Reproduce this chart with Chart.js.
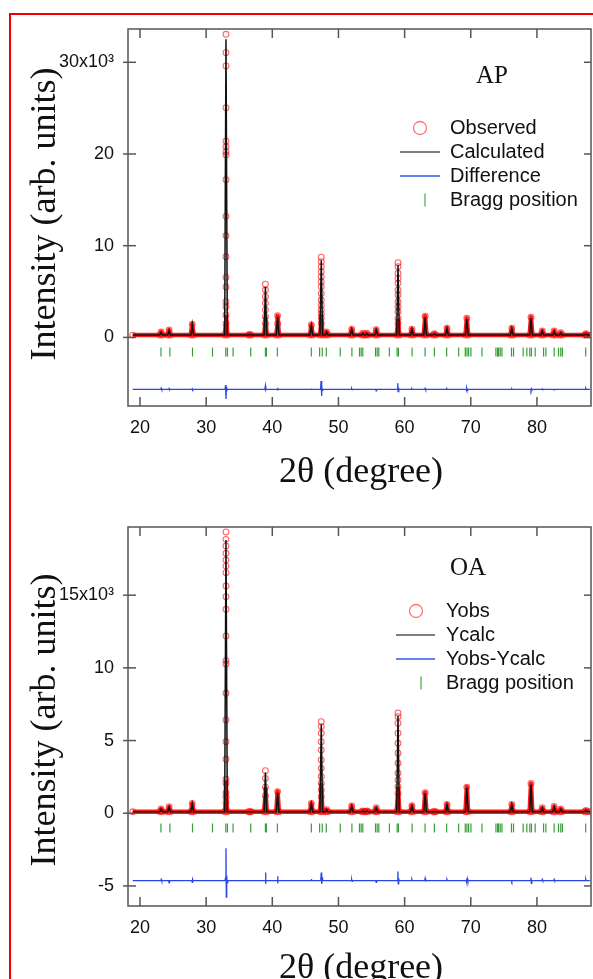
<!DOCTYPE html>
<html>
<head>
<meta charset="utf-8">
<script src="https://cdn.jsdelivr.net/npm/chart.js@4.4.1/dist/chart.umd.min.js"></script>
<style>
html, body { margin: 0; padding: 0; background: #fff; }
body { width: 593px; height: 979px; position: relative; overflow: hidden; }
#frame { position: absolute; left: 9px; top: 13px; width: 700px; height: 1000px;
         border-left: 2px solid #ee0000; border-top: 2px solid #ee0000; }
canvas { position: absolute; left: 0; }
#c1 { top: 0; }
#c2 { top: 490px; }
</style>
</head>
<body>
<div id="frame"></div>
<canvas id="c1" width="593" height="490"></canvas>
<canvas id="c2" width="593" height="489"></canvas>
<script>
// XRD refinement, two samples (AP, OA)
const X_TICKS = [20, 30, 40, 50, 60, 70, 80];
const X_START = 18.9, X_END = 88.0;

// reflection positions (2theta) shared by both patterns
const PEAK_POS = [23.2, 24.4, 27.9, 33.0, 36.6, 38.96, 40.8, 45.9, 47.4, 48.2, 52.0, 53.7, 54.3,
                  55.7, 59.0, 61.1, 63.1, 64.5, 66.4, 69.4, 76.2, 79.1, 80.8, 82.6, 83.6, 87.4];

// AP
const AP_OBS  = [600, 800, 1450, 33050, 350, 5800, 2370, 1350, 8750, 600, 900, 450, 450,
                 850, 8150, 900, 2300, 400, 1000, 2100, 1000, 2200, 700, 700, 500, 400];
const AP_CALC = [560, 760, 1400, 32500, 330, 5500, 2250, 1300, 8400, 580, 870, 430, 430,
                 820, 7900, 870, 2200, 380, 960, 2000, 960, 2100, 680, 660, 480, 380];
const AP_FLANK_POS = [33.0, 38.96, 40.8, 47.4, 59.0];
const AP_FLANK_VALS = [
  [1500, 2450, 3350, 3900, 5500, 6550, 8800, 11100, 13200, 17200, 19900, 20250, 20800, 21400, 25050, 29600, 31050],
  [1540, 2260, 2990, 3720, 4440, 5170],
  [1500],
  [1540, 2080, 2550, 2990, 3530, 4080, 4800, 5530, 6070, 6620, 7170, 7710, 8260],
  [1540, 2080, 2800, 3350, 3900, 4620, 5170, 5900, 6440, 6990, 7710]
];
const AP_DIFF = [
  [18.9,-5660],
  [23.15,-5660],[23.2,-5540],[23.26,-5700],[23.32,-5660],
  [24.35,-5660],[24.4,-5580],[24.45,-5660],
  [27.85,-5660],[27.9,-5600],[27.96,-5700],[28.02,-5660],
  [32.85,-5660],[32.94,-5190],[33.0,-6710],[33.06,-5420],[33.12,-5800],[33.2,-5660],
  [38.88,-5660],[38.95,-5300],[39.02,-5740],[39.08,-5660],
  [40.74,-5660],[40.8,-5480],[40.86,-5700],[40.92,-5660],
  [45.85,-5660],[45.9,-5580],[45.96,-5660],
  [47.3,-5660],[47.37,-4760],[47.44,-6390],[47.5,-5420],[47.57,-5760],[47.64,-5660],
  [51.95,-5660],[52.0,-5590],[52.06,-5700],[52.12,-5660],
  [55.64,-5660],[55.7,-5820],[55.76,-5660],
  [58.9,-5660],[58.96,-5010],[59.02,-5910],[59.08,-5500],[59.14,-5660],
  [61.05,-5660],[61.1,-5590],[61.16,-5660],
  [63.04,-5660],[63.1,-5560],[63.16,-5720],[63.22,-5660],
  [66.34,-5660],[66.4,-5590],[66.46,-5660],
  [69.3,-5660],[69.36,-5820],[69.42,-5540],[69.48,-5780],[69.55,-5660],
  [76.15,-5660],[76.2,-5600],[76.26,-5660],
  [79.04,-5660],[79.1,-5780],[79.16,-5590],[79.22,-5660],
  [80.75,-5660],[80.8,-5610],[80.86,-5660],
  [82.55,-5660],[82.6,-5720],[82.66,-5660],
  [87.32,-5660],[87.38,-5560],[87.44,-5660],
  [88.0,-5660]
];
const AP_Y_TICKS = [0, 10000, 20000, 30000];
const AP_Y_LABELS = ['0', '10', '20', '30x10³'];

// OA
const OA_OBS  = [300, 450, 680, 19350, 100, 2930, 1490, 680, 6300, 250, 500, 150, 150,
                 380, 6900, 520, 1420, 100, 600, 1800, 600, 2050, 380, 460, 300, 200];
const OA_CALC = [290, 430, 650, 18800, 100, 2800, 1430, 650, 6100, 240, 480, 150, 150,
                 360, 6700, 500, 1380, 100, 580, 1750, 580, 1980, 360, 440, 290, 190];
const OA_FLANK_POS = [33.0, 38.96, 47.4, 59.0];
const OA_FLANK_VALS = [
  [730, 1100, 1420, 2060, 2340, 3710, 4920, 6420, 8250, 10270, 10500, 12200, 14030, 14900, 15630, 16550, 17000, 17420, 17880, 18380, 18840],
  [1200, 1800, 2400],
  [1140, 1600, 2060, 2520, 3090, 3670, 4350, 4920, 5500, 5960],
  [1380, 1830, 2290, 2750, 3440, 4130, 4810, 5500, 6190, 6640]
];
const OA_DIFF = [
  [18.9,-4630],
  [23.15,-4630],[23.2,-4560],[23.26,-4680],[23.32,-4630],
  [24.35,-4630],[24.4,-4780],[24.46,-4630],
  [27.85,-4630],[27.9,-4760],[27.96,-4560],[28.02,-4630],
  [32.85,-4630],[32.93,-4450],[33.0,-2400],[33.05,-5770],[33.11,-4300],[33.17,-4780],[33.25,-4630],
  [38.9,-4630],[38.97,-4080],[39.04,-4720],[39.1,-4630],
  [40.74,-4630],[40.8,-4330],[40.86,-4700],[40.92,-4630],
  [45.85,-4630],[45.9,-4530],[45.96,-4630],
  [47.32,-4630],[47.4,-4080],[47.47,-4860],[47.54,-4400],[47.6,-4630],
  [51.95,-4630],[52.0,-4560],[52.06,-4680],[52.12,-4630],
  [55.64,-4630],[55.7,-4750],[55.76,-4630],
  [58.92,-4630],[58.98,-4010],[59.04,-4860],[59.1,-4480],[59.16,-4630],
  [61.05,-4630],[61.1,-4550],[61.16,-4630],
  [63.04,-4630],[63.1,-4480],[63.16,-4700],[63.22,-4630],
  [66.34,-4630],[66.4,-4560],[66.46,-4630],
  [69.3,-4630],[69.36,-4480],[69.42,-4780],[69.48,-4500],[69.55,-4630],
  [76.15,-4630],[76.2,-4700],[76.26,-4630],
  [79.04,-4630],[79.1,-4430],[79.16,-4830],[79.22,-4630],
  [80.75,-4630],[80.8,-4560],[80.86,-4630],
  [82.55,-4630],[82.6,-4560],[82.66,-4630],
  [87.32,-4630],[87.38,-4530],[87.44,-4630],
  [88.0,-4630]
];
const OA_Y_TICKS = [-5000, 0, 5000, 10000, 15000];
const OA_Y_LABELS = ['-5', '0', '5', '10', '15x10³'];

// Bragg reflections
const BRAGG = [23.17, 24.52, 27.94, 30.96, 32.97, 33.22, 34.07, 36.74, 38.96, 39.11, 40.77,
  45.9, 47.15, 47.55, 48.16, 50.27, 52.03, 53.18, 53.43, 53.68, 55.6, 55.85, 56.1, 57.7,
  58.87, 59.06, 61.13, 63.09, 64.5, 66.35, 68.16, 69.17, 69.42, 69.67, 70.02, 71.69,
  73.8, 74.05, 74.2, 74.45, 74.71, 76.15, 76.46, 77.92, 78.47, 78.92, 79.17, 79.73,
  81.0, 81.35, 82.6, 83.26, 83.6, 83.85, 87.37];

const HALF_W = 0.2;
const RED = 'rgba(255,0,0,0.9)';
const AXIS = '#555';

Chart.defaults.font.family = "'Liberation Sans', Arial, sans-serif";
Chart.defaults.font.size = 18;
Chart.defaults.color = '#111';

function profile(heights, base, flankPos, flankVals) {
  const pts = [{ x: X_START, y: base }];
  PEAK_POS.forEach((pos, i) => {
    pts.push({ x: pos - HALF_W, y: base });
    const k = flankPos ? flankPos.indexOf(pos) : -1;
    const fl = k >= 0 ? flankVals[k] : [];
    fl.forEach((v, j) => { if (j % 2 === 0) pts.push({ x: pos, y: v }); });
    pts.push({ x: pos, y: heights[i] });
    fl.filter((v, j) => j % 2 === 1).reverse().forEach(v => pts.push({ x: pos, y: v }));
    pts.push({ x: pos + HALF_W, y: base });
  });
  pts.push({ x: X_END, y: base });
  return pts;
}

function line(ctx, x1, y1, x2, y2) {
  ctx.beginPath(); ctx.moveTo(x1, y1); ctx.lineTo(x2, y2); ctx.stroke();
}

function makePanel(p) {
  const deco = {
    id: 'deco' + p.id,
    afterDraw(chart) {
      const ctx = chart.ctx, a = chart.chartArea, sx = chart.scales.x, sy = chart.scales.y;
      ctx.save();
      ctx.strokeStyle = AXIS;
      ctx.lineWidth = 1.5;
      ctx.strokeRect(a.left, a.top, a.right - a.left, a.bottom - a.top);
      X_TICKS.forEach(v => {
        const px = sx.getPixelForValue(v);
        line(ctx, px, a.bottom, px, a.bottom - 9);
        line(ctx, px, a.top, px, a.top + 9);
      });
      p.yTicks.forEach(v => {
        const py = sy.getPixelForValue(v);
        line(ctx, a.left - 5, py, a.left + 8, py);
        line(ctx, a.right, py, a.right - 7, py);
      });

      // axis titles
      ctx.fillStyle = '#111';
      ctx.textAlign = 'center';
      ctx.textBaseline = 'middle';
      ctx.font = "36px 'Liberation Serif', serif";
      ctx.fillText('2θ (degree)', 361, p.xTitleY);
      ctx.save();
      ctx.translate(46, p.yTitleY);
      ctx.rotate(-Math.PI / 2);
      ctx.fillText('Intensity (arb. units)', 0, 0);
      ctx.restore();

      // sample label
      ctx.font = "25px 'Liberation Serif', serif";
      ctx.fillText(p.label, p.labelX, p.labelY);

      // legend
      const L = p.legend;
      ctx.font = "20px 'Liberation Sans', Arial, sans-serif";
      ctx.textAlign = 'left';
      L.names.forEach((t, i) => ctx.fillText(t, L.textX, L.y0 + i * 24));
      ctx.strokeStyle = 'rgba(255,0,0,0.55)';
      ctx.lineWidth = 1.3;
      ctx.beginPath(); ctx.arc(L.cx, L.y0, 6.5, 0, Math.PI * 2); ctx.stroke();
      ctx.lineWidth = 1.5;
      ctx.strokeStyle = '#555';
      line(ctx, L.x1, L.y0 + 24, L.x2, L.y0 + 24);
      ctx.strokeStyle = '#3355ee';
      line(ctx, L.x1, L.y0 + 48, L.x2, L.y0 + 48);
      ctx.strokeStyle = '#44aa44';
      ctx.lineWidth = 1.2;
      line(ctx, L.cx + 5, L.y0 + 72 - 6.5, L.cx + 5, L.y0 + 72 + 6.5);
      ctx.restore();
    }
  };

  const obsPts = profile(p.obs, p.base, p.flankPos, p.flankVals);
  const calcPts = profile(p.calc, p.base);

  return new Chart(document.getElementById(p.id), {
    type: 'scatter',
    data: {
      datasets: [
        {
          label: p.legend.names[1],
          data: calcPts,
          showLine: true,
          borderColor: '#111',
          borderWidth: 1.5,
          pointRadius: 0
        },
        {
          label: p.legend.names[0],
          data: obsPts,
          showLine: true,
          borderColor: RED,
          borderWidth: 4.5,
          borderJoinStyle: 'round',
          segment: {
            borderColor: c => (c.p0.parsed.y > p.cap || c.p1.parsed.y > p.cap) ? 'rgba(0,0,0,0)' : RED
          },
          pointRadius: 2.9,
          pointBorderWidth: 1.1,
          pointBackgroundColor: 'rgba(0,0,0,0)',
          pointBorderColor: 'rgba(255,0,0,0.6)'
        },
        {
          label: p.legend.names[2],
          data: p.diff.map(d => ({ x: d[0], y: d[1] })),
          showLine: true,
          borderColor: '#2a45e6',
          borderWidth: 1.3,
          pointRadius: 0
        },
        {
          label: p.legend.names[3],
          data: BRAGG.map(x => ({ x: x, y: p.braggY })),
          showLine: false,
          pointStyle: 'line',
          rotation: 90,
          pointRadius: 4.5,
          pointBorderWidth: 1.2,
          pointBorderColor: '#3a9f3a'
        }
      ]
    },
    options: {
      responsive: false,
      animation: false,
      devicePixelRatio: 1,
      events: [],
      layout: { autoPadding: false, padding: { top: p.top, right: 2, left: 0, bottom: 0 } },
      plugins: { legend: { display: false }, tooltip: { enabled: false } },
      scales: {
        x: {
          type: 'linear',
          min: 18.19, max: 88.17,
          grid: { display: false },
          border: { display: false },
          afterFit: s => { s.height = p.xAxisH; s.paddingLeft = 0; s.paddingRight = 0; },
          afterBuildTicks: s => { s.ticks = X_TICKS.map(v => ({ value: v })); },
          ticks: { autoSkip: false, maxRotation: 0, padding: 3, color: '#111',
                   callback: v => String(v) }
        },
        y: {
          type: 'linear',
          min: p.yMin, max: p.yMax,
          grid: { display: false },
          border: { display: false },
          afterFit: s => { s.width = 128; },
          afterBuildTicks: s => { s.ticks = p.yTicks.map(v => ({ value: v })); },
          ticks: { padding: 6, color: '#111',
                   callback: (v, i) => p.yLabels[i] }
        }
      }
    },
    plugins: [deco]
  });
}

makePanel({
  id: 'c1', label: 'AP',
  obs: AP_OBS, calc: AP_CALC, flankPos: AP_FLANK_POS, flankVals: AP_FLANK_VALS,
  diff: AP_DIFF, base: 250, cap: 2600, braggY: -1600,
  yMin: -7480, yMax: 33630, yTicks: AP_Y_TICKS, yLabels: AP_Y_LABELS,
  top: 29, xAxisH: 490 - 406,
  xTitleY: 473, yTitleY: 214, labelX: 492, labelY: 76,
  legend: { names: ['Observed', 'Calculated', 'Difference', 'Bragg position'],
            y0: 128, cx: 420, x1: 400, x2: 440, textX: 450 }
});

makePanel({
  id: 'c2', label: 'OA',
  obs: OA_OBS, calc: OA_CALC, flankPos: OA_FLANK_POS, flankVals: OA_FLANK_VALS,
  diff: OA_DIFF, base: 100, cap: 2100, braggY: -1010,
  yMin: -6380, yMax: 19690, yTicks: OA_Y_TICKS, yLabels: OA_Y_LABELS,
  top: 37, xAxisH: 489 - 416,
  xTitleY: 479, yTitleY: 230, labelX: 468, labelY: 78,
  legend: { names: ['Yobs', 'Ycalc', 'Yobs-Ycalc', 'Bragg position'],
            y0: 121, cx: 416, x1: 396, x2: 435, textX: 446 }
});
</script>
</body>
</html>
